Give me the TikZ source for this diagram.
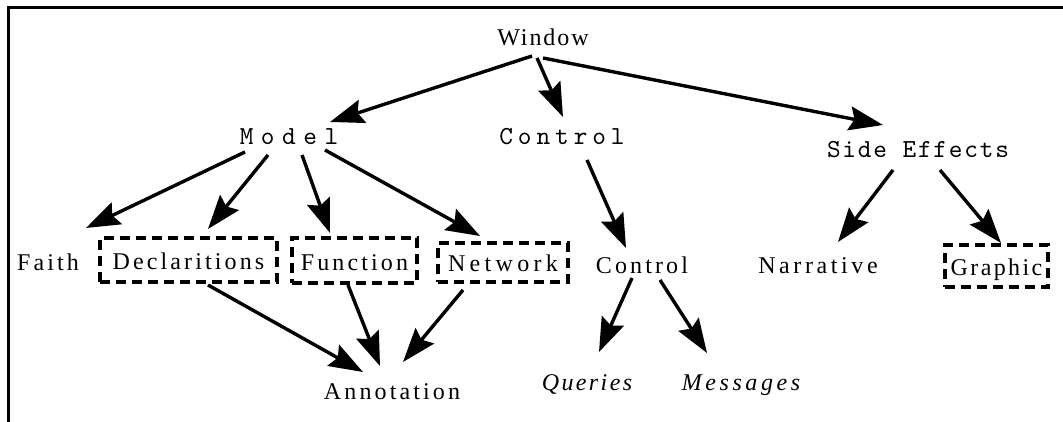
\documentclass[tikz,border=0pt]{standalone}
\usepackage{fontspec}
\setmainfont{Liberation Serif}[LetterSpace=13]
\newfontfamily\monofam{lmmono10-regular.otf}
\usetikzlibrary{arrows.meta}

\newcommand\serifsize{\fontsize{24}{28}\selectfont}
\newcommand\monosize{\fontsize{26}{30}\selectfont\monofam}

\tikzset{
  conn/.style={line width=3.4pt, -{Stealth[length=34pt,width=24pt,inset=5pt]}},
  lbl/.style={inner sep=0pt, anchor=base, font=\serifsize},
  mlbl/.style={inner sep=0pt, anchor=base, font=\monosize},
  boxed/.style={inner sep=0pt, anchor=center, font=\serifsize, draw,
    line width=3.4pt, dash pattern=on 10pt off 6pt,
    text height=21pt, text depth=2pt},
}

\begin{document}
\begin{tikzpicture}[x=1pt,y=-1pt]
\useasboundingbox (0,0) rectangle (1063,422);

% frame edges
\draw[line width=3pt] (8,422) -- (8,8) -- (1063,8);

% top level
\node[lbl] (win) at (543,46) {\addfontfeatures{LetterSpace=8}Window};
\node[mlbl] (model) at (289,145) {\addfontfeatures{LetterSpace=29}Model};
\node[mlbl] (ctrl) at (562,145) {\addfontfeatures{LetterSpace=19}Control};
\node[mlbl] (side) at (918,158) {\addfontfeatures{LetterSpace=7}Side Effects};

% second level
\node[lbl] (faith) at (48,270) {Faith};
\node[boxed, minimum width=177pt, minimum height=44pt] (decl) at (188.5,260) {Declaritions};
\node[boxed, minimum width=125pt, minimum height=45pt] (func) at (354.5,260.5) {Function};
\node[boxed, minimum width=130pt, minimum height=39pt] (netw) at (503,262.5) {\addfontfeatures{LetterSpace=18}Network};
\node[lbl] (ctrl2) at (642,273) {Control};
\node[lbl] (narr) at (818,273) {\addfontfeatures{LetterSpace=15}Narrative};
\node[boxed, minimum width=103pt, minimum height=42pt] (graph) at (996.5,266) {\addfontfeatures{LetterSpace=10}Graphic};

% third level
\node[lbl] (annot) at (392,399) {Annotation};
\node[lbl] (quer) at (587,390) {\itshape\addfontfeatures{LetterSpace=10}Queries};
\node[lbl] (mess) at (741,390) {\itshape\addfontfeatures{LetterSpace=15}Messages};

% connectors
\draw[conn] ([shift={(-11,10)}]win.base) -- ([shift={(41,-23)}]model.base);
\draw[conn] ([shift={(-6,12)}]win.base) -- ([shift={(1,-28)}]ctrl.base);
\draw[conn] ([shift={(0,12)}]win.base) -- ([shift={(-35,-33)}]side.base);

\draw[conn] ([shift={(-44,7)}]model.base) -- ([shift={(38,-42)}]faith.base);
\draw[conn] ([shift={(-21,10)}]model.base) -- ([shift={(19.5,-31)}]decl.center);
\draw[conn] ([shift={(13,10)}]model.base) -- ([shift={(-24.5,-27.5)}]func.center);
\draw[conn] ([shift={(36,5)}]model.base) -- ([shift={(-23,-26.5)}]netw.center);

\draw[conn] ([shift={(19.5,25)}]decl.center) -- ([shift={(-29,-27)}]annot.base);
\draw[conn] ([shift={(-6.5,24.5)}]func.center) -- ([shift={(-12,-33)}]annot.base);
\draw[conn] ([shift={(-40,27.5)}]netw.center) -- ([shift={(11,-37)}]annot.base);

\draw[conn] ([shift={(25,15)}]ctrl.base) -- ([shift={(-16,-25)}]ctrl2.base);
\draw[conn] ([shift={(-10,5)}]ctrl2.base) -- ([shift={(12,-38)}]quer.base);
\draw[conn] ([shift={(18,7)}]ctrl2.base) -- ([shift={(-34,-37)}]mess.base);

\draw[conn] ([shift={(-25,12)}]side.base) -- ([shift={(20,-31)}]narr.base);
\draw[conn] ([shift={(22,12)}]side.base) -- ([shift={(4.5,-23)}]graph.center);
\end{tikzpicture}
\end{document}
